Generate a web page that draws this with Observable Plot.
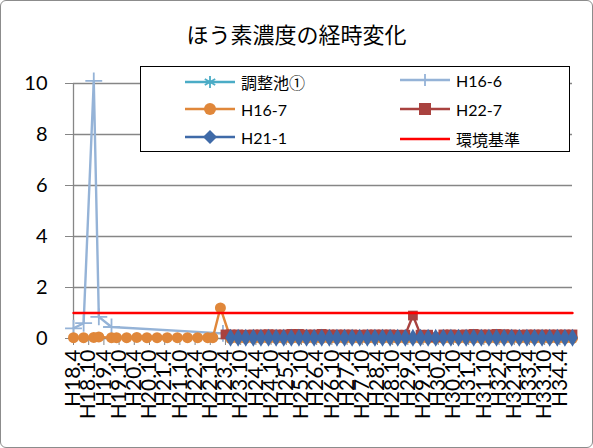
<!DOCTYPE html>
<html><head><meta charset="utf-8">
<script src="https://cdn.jsdelivr.net/npm/d3@7"></script>
<script src="https://cdn.jsdelivr.net/npm/@observablehq/plot@0.6"></script>
<style>
body{margin:0;background:#fff;}
#wrap{position:relative;width:593px;height:448px;overflow:hidden;}
#frame{position:absolute;left:0;top:0;width:593px;height:448px;box-sizing:border-box;border:1px solid #8c8c8c;border-radius:6px;pointer-events:none;}
#title{position:absolute;left:0;width:593px;top:17px;text-align:center;font:22px "Noto Sans CJK JP";color:#000;}
#legend{position:absolute;left:140px;top:66px;width:430px;height:86px;box-sizing:border-box;border:1.5px solid #000;background:#fff;}
.item{position:absolute;display:flex;align-items:center;font:16px Lato,"Noto Sans CJK JP";color:#000;}
.item .jp{font-family:"Noto Sans CJK JP";font-size:16px;}
.item svg{margin-right:6px;}
svg text{font-family:Lato,"Noto Sans CJK JP";}
</style></head>
<body>
<div id="wrap"><div id="chart"></div><div id="title">ほう素濃度の経時変化</div><div id="legend"></div><div id="frame"></div></div>
<script>
// x tick labels (every 6 months)
const tickLabels = ["H18.4","H18.10","H19.4","H19.10","H20.4","H20.10","H21.4","H21.10","H22.4","H22.10","H23.4","H23.10","H24.4","H24.10","H25.4","H25.10","H26.4","H26.10","H27.4","H27.10","H28.4","H28.10","H29.4","H29.10","H30.4","H30.10","H31.4","H31.10","H32.4","H32.10","H33.4","H33.10","H34.4"];
const axisStart = "H18.4";
const axisEnd = "H34.9";
const yTicks = [0,2,4,6,8,10];

const seriesNames = ["調整池①","H16-6","H16-7","H22-7","H21-1","環境基準"];
const colors = ["#4bacc6","#95b3d7","#e0873a","#a9423f","#3f6aa8","#ff0000"];
const symbols = ["asterisk","plus","circle","square","diamond",null];

// quarterly sampling dates from H23.6
const lateDates = ["H23.6","H23.9","H23.12","H24.3","H24.6","H24.9","H24.12","H25.3","H25.6","H25.9","H25.12","H26.3","H26.6","H26.9","H26.12","H27.3","H27.6","H27.9","H27.12","H28.3","H28.6","H28.9","H28.12","H29.3","H29.6","H29.9","H29.12","H30.3","H30.6","H30.9","H30.12","H31.3","H31.6","H31.9","H31.12","H32.3","H32.6","H32.9","H32.12","H33.3","H33.6","H33.9","H33.12","H34.3","H34.6","H34.9"];

// 調整池①
const s0Dates = lateDates;
const s0Vals  = [0.02,0.02,0.02,0.02,0.02,0.02,0.02,0.02,0.02,0.02,0.02,0.02,0.02,0.02,0.02,0.02,0.02,0.02,0.02,0.02,0.02,0.02,0.02,0.02,0.02,0.02,0.02,0.02,0.02,0.02,0.02,0.02,0.02,0.02,0.02,0.02,0.02,0.02,0.02,0.02,0.02,0.02,0.02,0.02,0.02,0.02];

// H16-6
const s1Dates = ["H18.4","H18.8","H18.12","H19.2","H19.7","H23.3"];
const s1Vals  = [0.4,0.6,10.1,0.85,0.45,0.2];

// H16-7
const s2Dates = ["H18.4","H18.8","H18.12","H19.2","H19.7","H19.9","H20.1","H20.5","H20.9","H21.1","H21.5","H21.9","H22.1","H22.5","H22.9","H22.11","H23.2"].concat(lateDates);
const s2Vals  = [0.03,0.03,0.04,0.06,0.03,0.03,0.03,0.04,0.03,0.03,0.03,0.03,0.03,0.03,0.03,0.03,1.2,
  0.01,0.01,0.01,0.01,0.01,0.01,0.01,0.01,0.01,0.01,0.01,0.01,0.01,0.01,0.01,0.01,0.01,0.01,0.01,0.01,0.01,0.01,0.01,0.01,0.01,0.01,0.01,0.01,0.01,0.01,0.01,0.01,0.01,0.01,0.01,0.01,0.01,0.01,0.01,0.01,0.01,0.01,0.01,0.01,0.01,0.01];

// H22-7
const s3Dates = ["H23.4"].concat(lateDates);
const s3Vals  = [0.16,0.16,0.16,0.15,0.16,0.16,0.17,0.16,0.16,0.18,0.18,0.16,0.16,0.18,0.16,0.16,0.16,0.16,0.15,0.16,0.16,0.16,0.16,0.15,0.15,0.9,0.15,0.15,0.05,0.16,0.16,0.15,0.16,0.18,0.16,0.16,0.18,0.17,0.16,0.15,0.16,0.16,0.16,0.16,0.16,0.16,0.16];

// H21-1
const s4Dates = lateDates;
const s4Vals  = [0.03,0.03,0.03,0.03,0.03,0.03,0.03,0.03,0.03,0.03,0.03,0.03,0.03,0.03,0.03,0.03,0.03,0.03,0.03,0.03,0.03,0.03,0.03,0.03,0.03,0.03,0.03,0.03,0.03,0.03,0.03,0.03,0.03,0.03,0.03,0.03,0.03,0.03,0.03,0.03,0.03,0.03,0.03,0.03,0.03,0.03];

// 環境基準
const stdDates = ["H18.4","H34.9"];
const stdVals = [1,1];

function toMonth(s){const m=s.match(/H(\d+)\.(\d+)/);return (+m[1]-18)*12+(+m[2]-4);}
const mk = (dates, vals) => dates.map((d,i)=>({x:toMonth(d), y:vals[i]}));
const series = [mk(s0Dates,s0Vals),mk(s1Dates,s1Vals),mk(s2Dates,s2Vals),mk(s3Dates,s3Vals),mk(s4Dates,s4Vals),mk(stdDates,stdVals)];
const sizes = [4,5.5,5.5,5.5,5.5,0];

const marks = [
  Plot.ruleY(yTicks.slice(1), {stroke:"#868686", strokeWidth:1.3}),
  Plot.axisY(yTicks, {tickSize:8, stroke:"#868686", tickPadding:18, fontSize:20, label:null, color:"#000"}),
  Plot.axisX(tickLabels.map(toMonth), {tickSize:7, stroke:"#868686", tickRotate:-90, tickPadding:4, fontSize:21, label:null, tickFormat:(d,i)=>tickLabels[i]}),
  Plot.ruleX([toMonth(axisStart)], {stroke:"#868686", strokeWidth:1.3}),
  Plot.ruleY([0], {stroke:"#868686", strokeWidth:1.3})
];
series.forEach((data,k)=>{
  marks.push(Plot.line(data,{x:"x",y:"y",stroke:colors[k],strokeWidth:2.4}));
  if(symbols[k]){
    const filled = ["circle","square","diamond"].includes(symbols[k]);
    marks.push(Plot.dot(data,{x:"x",y:"y",symbol:symbols[k],r:sizes[k],fill:filled?colors[k]:"none",stroke:colors[k],strokeWidth:filled?0:1.8}));
  }
});

const chart = Plot.plot({
  width:593, height:448,
  marginLeft:73, marginRight:21, marginTop:83, marginBottom:110,
  x:{domain:[toMonth(axisStart),toMonth(axisEnd)], axis:null},
  y:{domain:[0,10], axis:null},
  style:{background:"transparent", overflow:"visible"},
  marks
});
document.getElementById("chart").appendChild(chart);

// legend
const leg = document.getElementById("legend");
const pos = [[44,14],[259,14],[44,43],[259,43],[44,71],[259,71]];
seriesNames.forEach((n,k)=>{
  const d=document.createElement("div");d.className="item";
  d.style.left=pos[k][0]+"px";d.style.top=(pos[k][1]-11)+"px";
  const sym = symbols[k];
  const c=colors[k];
  let m="";
  if(sym==="asterisk") m=`<path d="M25,4v12M19.8,7l10.4,6M19.8,13l10.4,-6" stroke="${c}" stroke-width="1.8" fill="none"/>`;
  if(sym==="plus") m=`<path d="M25,4v12" stroke="${c}" stroke-width="1.8"/>`;
  if(sym==="circle") m=`<circle cx="25" cy="10" r="6" fill="${c}"/>`;
  if(sym==="square") m=`<rect x="19" y="4" width="12" height="12" fill="${c}"/>`;
  if(sym==="diamond") m=`<path d="M25,3L32,10L25,17L18,10Z" fill="${c}"/>`;
  const jp = /[^\x00-\x7f]/.test(n) ? ' class="jp"' : '';
  d.innerHTML=`<svg width="50" height="20"><line x1="0" x2="50" y1="10" y2="10" stroke="${c}" stroke-width="2.5"/>${m}</svg><span${jp}>${n}</span>`;
  leg.appendChild(d);
});
</script>
</body></html>
